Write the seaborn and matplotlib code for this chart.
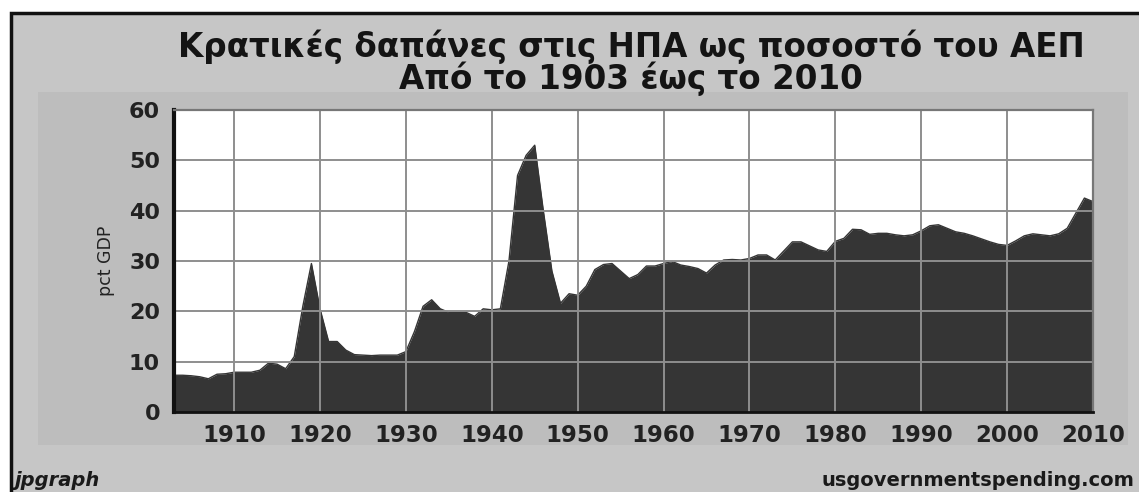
import matplotlib
matplotlib.use('Agg')
import matplotlib.pyplot as plt
import seaborn as sns
from matplotlib.patches import Rectangle
from matplotlib.ticker import MultipleLocator

# Years on the x axis
years = list(range(1903, 2011))

# Spending as pct of GDP (decade by decade)
pct_1900s = [7.3, 7.3, 7.2, 7.0, 6.6, 7.5, 7.6]
pct_1910s = [7.9, 7.9, 7.9, 8.3, 9.7, 9.5, 8.6, 11.0, 21.0, 29.5]
pct_1920s = [20.5, 14.0, 14.0, 12.3, 11.4, 11.3, 11.2, 11.3, 11.3, 11.3]
pct_1930s = [12.0, 16.0, 21.0, 22.3, 20.5, 19.8, 19.8, 19.8, 19.0, 20.5]
pct_1940s = [20.3, 20.5, 30.0, 47.0, 51.0, 53.0, 40.0, 28.0, 21.6, 23.5]
pct_1950s = [23.2, 25.0, 28.3, 29.3, 29.5, 28.0, 26.5, 27.3, 29.0, 29.0]
pct_1960s = [29.5, 29.9, 29.2, 28.9, 28.5, 27.6, 29.2, 30.2, 30.3, 30.2]
pct_1970s = [30.5, 31.2, 31.2, 30.2, 32.0, 33.8, 33.8, 33.0, 32.2, 31.9]
pct_1980s = [33.9, 34.5, 36.3, 36.2, 35.3, 35.5, 35.5, 35.2, 35.0, 35.2]
pct_1990s = [36.0, 37.0, 37.2, 36.5, 35.8, 35.5, 35.0, 34.4, 33.8, 33.3]
pct_2000s = [33.1, 34.0, 35.0, 35.4, 35.2, 35.0, 35.4, 36.5, 39.5, 42.5, 41.8]

pct_gdp = (pct_1900s + pct_1910s + pct_1920s + pct_1930s + pct_1940s + pct_1950s
           + pct_1960s + pct_1970s + pct_1980s + pct_1990s + pct_2000s)

x_ticks = list(range(1910, 2011, 10))
y_ticks = list(range(0, 61, 10))

title_1 = 'Κρατικές δαπάνες στις ΗΠΑ ως ποσοστό του ΑΕΠ'
title_2 = 'Από το 1903 έως το 2010'

sns.set_style('white')
plt.rcParams['font.family'] = ['DejaVu Sans']

W, H = 1139, 492
fig = plt.figure(figsize=(W / 100, H / 100), dpi=100)
fig.patch.set_facecolor('white')

# outer gray frame with black border, and the inner margin panel
fig.add_artist(Rectangle((11 / W, -0.02), 1.0, 1 - 13 / H + 0.02,
                         transform=fig.transFigure, facecolor='#c6c6c6',
                         edgecolor='#111111', lw=2.5, zorder=0))
fig.add_artist(Rectangle((38 / W, 1 - 445 / H), (1128 - 38) / W, (445 - 92) / H,
                         transform=fig.transFigure, facecolor='#bdbdbd',
                         edgecolor='none', zorder=0))

ax = fig.add_axes([174 / W, 1 - 412 / H, (1093 - 174) / W, (412 - 110) / H])
ax.set_facecolor('white')

dark = '#353535'
sns.lineplot(x=years, y=pct_gdp, color=dark, lw=1, ax=ax, zorder=2)
ax.fill_between(years, pct_gdp, 0, color=dark, lw=0, zorder=2)

ax.set_xlim(1903, 2010)
ax.set_ylim(0, 60)
ax.set_xticks(x_ticks)
ax.set_yticks(y_ticks)
ax.yaxis.set_minor_locator(MultipleLocator(5))

# grid drawn over the filled area
grid_col = '#8e8e8e'
for xv in x_ticks[:-1]:
    ax.axvline(xv, color=grid_col, lw=1.4, zorder=3)
for yv in y_ticks[1:]:
    ax.axhline(yv, color=grid_col, lw=1.4, zorder=3)

for side in ['top', 'right']:
    ax.spines[side].set_color('#777777')
    ax.spines[side].set_linewidth(1.6)
ax.spines['left'].set_color('#111111')
ax.spines['left'].set_linewidth(3)
ax.spines['bottom'].set_color('#111111')
ax.spines['bottom'].set_linewidth(2)
for sp in ax.spines.values():
    sp.set_zorder(4)

ax.tick_params(axis='y', which='major', direction='in', length=9, width=2.2,
               color='#111111', labelsize=16, pad=10)
ax.tick_params(axis='y', which='minor', direction='in', length=6, width=2.2,
               color='#111111')
ax.tick_params(axis='x', which='major', direction='in', length=6, width=3,
               color='#111111', labelsize=16.5, pad=9)
for lab in ax.get_xticklabels() + ax.get_yticklabels():
    lab.set_fontweight('bold')
    lab.set_color('#222222')

ax.set_ylabel('pct GDP', fontsize=12.5, color='#222222', labelpad=10)
ax.set_xlabel('')

fig.text(631 / W, 1 - 47 / H, title_1, ha='center', va='center',
         fontsize=23.5, fontweight='bold', color='#141414')
fig.text(631 / W, 1 - 79 / H, title_2, ha='center', va='center',
         fontsize=23.5, fontweight='bold', color='#141414')

fig.text(15 / W, 1 - 481 / H, 'jpgraph', ha='left', va='center',
         fontsize=14, fontweight='bold', fontstyle='italic', color='#1a1a1a')
fig.text(1134 / W, 1 - 481 / H, 'usgovernmentspending.com', ha='right',
         va='center', fontsize=14, fontweight='bold', color='#1a1a1a')

fig.savefig('out.png', dpi=100)
plt.close(fig)
